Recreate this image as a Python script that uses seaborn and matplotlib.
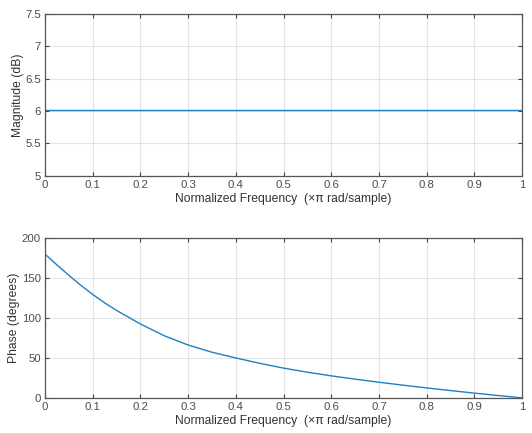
import numpy as np
import matplotlib
matplotlib.use("Agg")
import matplotlib.pyplot as plt
import seaborn as sns

# valores
freq = [0.0, 0.025, 0.05, 0.075, 0.1, 0.125, 0.15, 0.175, 0.2, 0.25, 0.3,
        0.35, 0.4, 0.45, 0.5, 0.55, 0.6, 0.65, 0.7, 0.75, 0.8, 0.85, 0.9,
        0.95, 1.0]
magnitud_db = [6.02] * len(freq)
fase_grados = [180, 166.5, 153.5, 141, 129.5, 119, 109.5, 101, 92.5, 77.8, 66.2,
               57.2, 50, 43.3, 37.3, 32.2, 27.6, 23.5, 19.6, 16, 12.5, 9.2, 6,
               3, 0]
xticks = [0, 0.1, 0.2, 0.3, 0.4, 0.5, 0.6, 0.7, 0.8, 0.9, 1]

sns.set_theme(style="whitegrid")
plt.rcParams['font.family'] = ['Liberation Sans', 'DejaVu Sans']

fig = plt.figure(figsize=(5.32, 4.33), dpi=100)
ax1 = fig.add_axes([0.0846, 0.594, 0.897, 0.374])
ax2 = fig.add_axes([0.0846, 0.081, 0.897, 0.369])

color = '#1f7fc4'
sns.lineplot(x=freq, y=magnitud_db, ax=ax1, color=color, linewidth=1.0)
sns.lineplot(x=freq, y=fase_grados, ax=ax2, color=color, linewidth=1.0)

ax1.set_ylim(5, 7.5)
ax1.set_yticks([5, 5.5, 6, 6.5, 7, 7.5])
ax1.set_yticklabels(['5', '5.5', '6', '6.5', '7', '7.5'])
ax1.set_ylabel("Magnitude (dB)")
ax2.set_ylim(0, 200)
ax2.set_yticks([0, 50, 100, 150, 200])
ax2.set_ylabel("Phase (degrees)")

for ax in (ax1, ax2):
    ax.set_xlim(0, 1)
    ax.set_xticks(xticks)
    ax.set_xticklabels(['0', '0.1', '0.2', '0.3', '0.4', '0.5', '0.6', '0.7', '0.8', '0.9', '1'])
    ax.set_xlabel("Normalized Frequency  (\u00d7\u03c0 rad/sample)")
    ax.grid(True, color='#e3e3e3', linewidth=0.8)
    ax.tick_params(direction='in', length=3, width=0.8, color='#404040',
                   labelsize=8.2, labelcolor='#4a4a4a', pad=3,
                   top=True, right=True, bottom=True, left=True)
    ax.xaxis.label.set_size(8.7)
    ax.yaxis.label.set_size(8.7)
    ax.xaxis.label.set_color('#333333')
    ax.yaxis.label.set_color('#333333')
    ax.xaxis.labelpad = 2
    ax.yaxis.labelpad = 1
    for s in ax.spines.values():
        s.set_color('#555555')
        s.set_linewidth(0.9)

fig.savefig("out.png", dpi=100)
